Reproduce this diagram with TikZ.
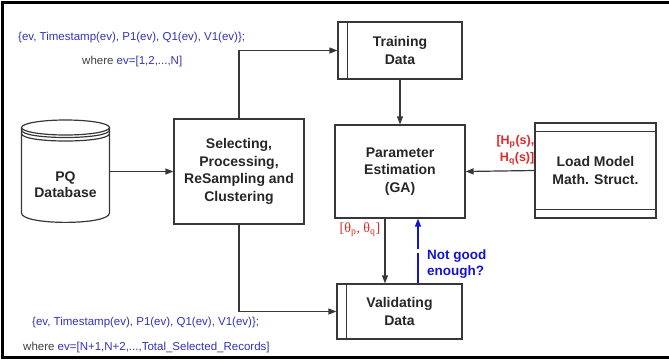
\documentclass[tikz,border=0pt]{standalone}
\usepackage{fontspec}
\setmainfont{Liberation Sans}
\newfontfamily\thetafont{Liberation Serif}
\usepackage{tikz}
\usetikzlibrary{positioning, arrows.meta, calc}
\usepackage{xcolor}
\definecolor{linegray}{RGB}{55,55,55}
\definecolor{textblue}{RGB}{50,50,185}
\definecolor{askblue}{RGB}{20,20,205}
\definecolor{labelred}{RGB}{225,40,40}

\begin{document}
\begin{tikzpicture}[x=1pt, y=-1pt, >={Triangle[length=8pt,width=6pt]},
  block/.style={draw=linegray, line width=1.2pt, inner sep=0pt, align=center,
    text=black!85, font=\fontsize{14}{17.7}\selectfont\bfseries},
  flow/.style={draw=linegray, line width=1.2pt, ->},
  note/.style={inner sep=0pt, anchor=west, text=textblue, font=\fontsize{11.5}{14}\selectfont}]
\useasboundingbox (0,0) rectangle (669,360);
\draw[line width=3pt] (669,2.5) -- (2.5,2.5) -- (2.5,357.5) -- (669,357.5);

% database
\node[inner sep=0pt, minimum width=88pt, minimum height=103pt] (db) at (65.5,171.5) {};
\draw[linegray, line width=1.2pt] (21.5,127.5) -- (21.5,213)
  .. controls (21.5,225.5) and (109.5,225.5) .. (109.5,213) -- (109.5,127.5);
\draw[linegray, line width=1.2pt] (65.5,127.5) ellipse [x radius=44, y radius=7.5];
\draw[linegray, line width=1.2pt] (21.5,130) .. controls (21.5,140) and (109.5,140) .. (109.5,130);
\draw[linegray, line width=1.2pt] (21.5,133.5) .. controls (21.5,143.5) and (109.5,143.5) .. (109.5,133.5);
\node[align=center, text=black!85, font=\fontsize{14}{16}\selectfont\bfseries] (dbtext) at (65.5,185) {PQ\\Database};

% boxes
\node[block, minimum width=130pt, minimum height=105pt] (sel) at (239,171.5) {Selecting,\\Processing,\\ReSampling and\\Clustering};
\node[block, minimum width=124pt, minimum height=57pt] (train) at (400,50.5) {Training\\Data};
\node[block, minimum width=130pt, minimum height=93pt] (param) at (400,171.5) {Parameter\\Estimation\\(GA)};
\node[block, minimum width=121pt, minimum height=95pt] (load) at (595.5,170.5) {Load Model\\Math. Struct.};
\node[block, minimum width=125pt, minimum height=55pt] (valid) at (399.5,311.5) {Validating\\Data};
\draw[linegray, line width=1.2pt] ([xshift=10pt]train.north west) -- ([xshift=10pt]train.south west);
\draw[linegray, line width=1.2pt] ([xshift=10pt]valid.north west) -- ([xshift=10pt]valid.south west);
\draw[linegray, line width=1.2pt] ([yshift=-9pt]load.north west) -- ([yshift=-9pt]load.north east);
\draw[linegray, line width=1.2pt] ([yshift=9pt]load.south west) -- ([yshift=9pt]load.south east);

% connectors
\draw[flow] (db.east) -- (sel.west);
\draw[flow] (sel.north) |- (train.west);
\draw[flow] (sel.south) |- (valid.west);
\draw[flow] (train.south) -- (param.north);
\draw[flow] (load.west) -- (param.east);
\draw[flow] ([xshift=-15pt]param.south) -- ([xshift=-14.5pt]valid.north);
\draw[askblue, line width=1.2pt, ->, dash pattern=on 30pt off 4pt] ([xshift=18.5pt]valid.north) -- ([xshift=18pt]param.south);

% labels
\node[inner sep=0pt, anchor=east, align=right, text=labelred, font=\fontsize{12.5}{17}\selectfont\bfseries] (hlabel) at (534.5,150.5) {[H\textsubscript{p}(s),\\H\textsubscript{q}(s)]};
\node[inner sep=0pt, text=labelred, font=\fontsize{14}{16}\selectfont\thetafont] (thlabel) at (360,230) {[θ\textsubscript{p}, θ\textsubscript{q}]};
\node[inner sep=0pt, anchor=west, align=left, text=askblue, font=\fontsize{13.5}{16}\selectfont\bfseries] (ask) at (427,264) {Not good\\enough?};
\node[note] (toptuple) at (18,38) {\{ev, Timestamp(ev), P1(ev), Q1(ev), V1(ev)\};};
\node[note, text=black!75] (topwhere) at (82,62) {where \textcolor{textblue}{ev=[1,2,...,N]}};
\node[note] (bottuple) at (32,323) {\{ev, Timestamp(ev), P1(ev), Q1(ev), V1(ev)\};};
\node[note, text=black!75] (botwhere) at (23,348) {where \textcolor{textblue}{ev=[N+1,N+2,...,Total\_Selected\_Records]}};
\end{tikzpicture}
\end{document}
